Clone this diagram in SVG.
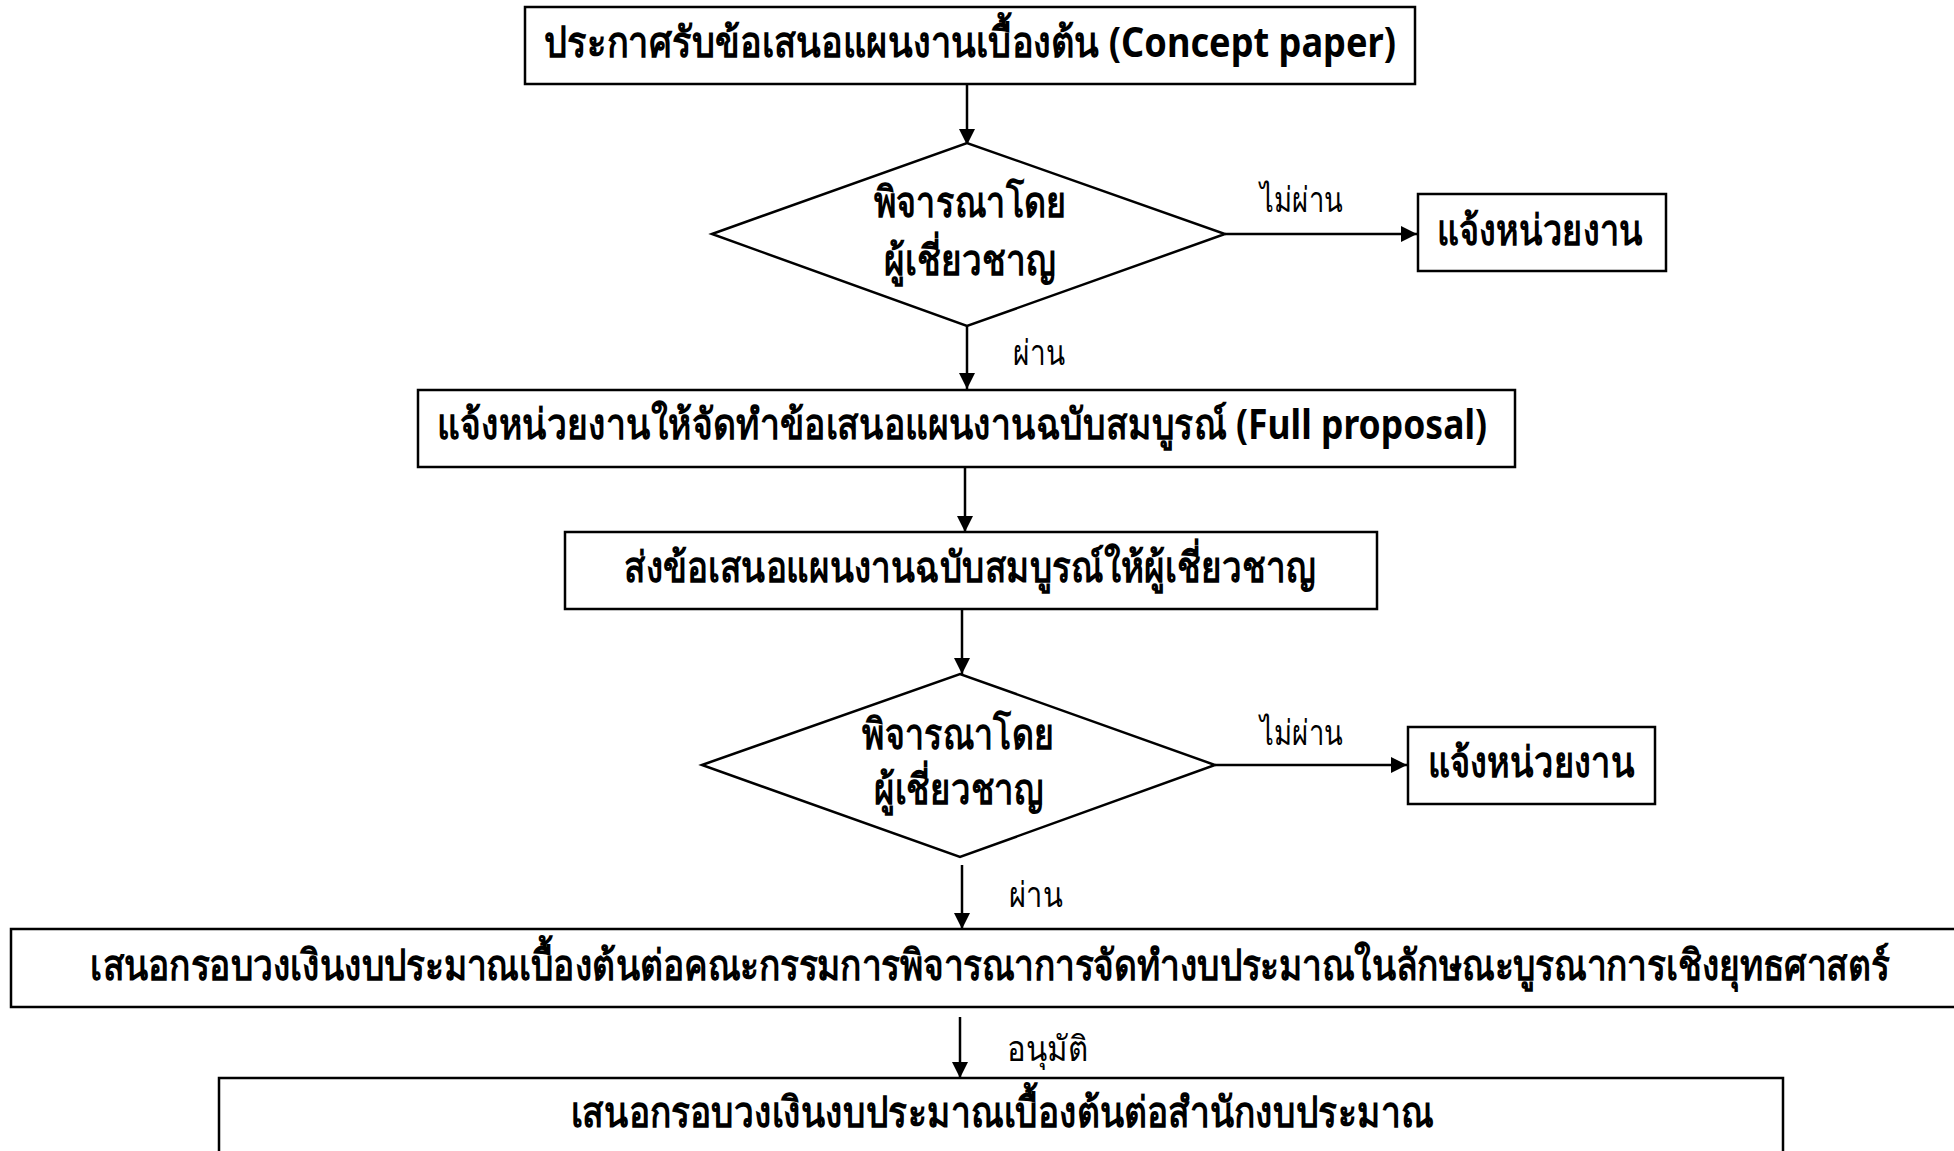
<svg xmlns="http://www.w3.org/2000/svg" width="1954" height="1151" viewBox="0 0 1954 1151">
<style>
.box{fill:#fff;stroke:#000;stroke-width:2.5}
.dia{fill:#fff;stroke:#000;stroke-width:2.5}
.t{font-family:"Noto Sans","DejaVu Sans",sans-serif;font-weight:bold;font-size:42px;fill:#000;text-anchor:middle}
.lbl{font-family:"Noto Sans","DejaVu Sans",sans-serif;font-weight:300;font-size:35px;fill:#000}
.c{stroke:#000;stroke-width:2.5;fill:none;marker-end:url(#ah)}
</style>
<defs>
<marker id="ah" markerUnits="userSpaceOnUse" markerWidth="16" markerHeight="16" viewBox="0 0 16 16" refX="16" refY="8" orient="auto">
<path d="M0,0 L16,8 L0,16 Z" fill="#000"/>
</marker>
</defs>
<rect width="1954" height="1151" fill="#fff"/>
<g id="connectors">
<line class="c" x1="967" y1="85" x2="967" y2="145"/>
<line class="c" x1="1225" y1="234" x2="1417" y2="234"/>
<line class="c" x1="967" y1="326" x2="967" y2="389"/>
<line class="c" x1="965" y1="467" x2="965" y2="532"/>
<line class="c" x1="962" y1="609" x2="962" y2="674"/>
<line class="c" x1="1215" y1="765" x2="1407" y2="765"/>
<line class="c" x1="962" y1="865" x2="962" y2="929"/>
<line class="c" x1="960" y1="1017" x2="960" y2="1078"/>
<text class="lbl" x="1260" y="212" textLength="83" lengthAdjust="spacingAndGlyphs">ไม่ผ่าน</text>
<text class="lbl" x="1013" y="365" textLength="52" lengthAdjust="spacingAndGlyphs">ผ่าน</text>
<text class="lbl" x="1260" y="745" textLength="83" lengthAdjust="spacingAndGlyphs">ไม่ผ่าน</text>
<text class="lbl" x="1009" y="907" textLength="54" lengthAdjust="spacingAndGlyphs">ผ่าน</text>
<text class="lbl" x="1007" y="1061" textLength="81" lengthAdjust="spacingAndGlyphs">อนุมัติ</text>
</g>
<g id="n1">
<rect class="box" x="525" y="7" width="890" height="77"/>
<text class="t" x="970" y="57" textLength="852" lengthAdjust="spacingAndGlyphs">ประกาศรับข้อเสนอแผนงานเบื้องต้น (Concept paper)</text>
</g>
<g id="n2">
<polygon class="dia" points="712,234 967,143 1225,234 967,326"/>
<text class="t" x="970" y="217" textLength="193" lengthAdjust="spacingAndGlyphs">พิจารณาโดย</text>
<text class="t" x="970" y="275" textLength="172" lengthAdjust="spacingAndGlyphs">ผู้เชี่ยวชาญ</text>
</g>
<g id="n3">
<rect class="box" x="1418" y="194" width="248" height="77"/>
<text class="t" x="1540" y="245" textLength="206" lengthAdjust="spacingAndGlyphs">แจ้งหน่วยงาน</text>
</g>
<g id="n4">
<rect class="box" x="418" y="390" width="1097" height="77"/>
<text class="t" x="962" y="439" textLength="1050" lengthAdjust="spacingAndGlyphs">แจ้งหน่วยงานให้จัดทำข้อเสนอแผนงานฉบับสมบูรณ์ (Full proposal)</text>
</g>
<g id="n5">
<rect class="box" x="565" y="532" width="812" height="77"/>
<text class="t" x="970" y="582" textLength="692" lengthAdjust="spacingAndGlyphs">ส่งข้อเสนอแผนงานฉบับสมบูรณ์ให้ผู้เชี่ยวชาญ</text>
</g>
<g id="n6">
<polygon class="dia" points="702,765 960,674 1215,765 960,857"/>
<text class="t" x="958" y="749" textLength="192" lengthAdjust="spacingAndGlyphs">พิจารณาโดย</text>
<text class="t" x="959" y="804" textLength="170" lengthAdjust="spacingAndGlyphs">ผู้เชี่ยวชาญ</text>
</g>
<g id="n7">
<rect class="box" x="1408" y="727" width="247" height="77"/>
<text class="t" x="1531" y="777" textLength="207" lengthAdjust="spacingAndGlyphs">แจ้งหน่วยงาน</text>
</g>
<g id="n8">
<path class="box" d="M1954,929 H11 V1007 H1954"/>
<text class="t" transform="scale(0.8,1)" x="1237.5" y="980" textLength="2248.75" lengthAdjust="spacingAndGlyphs">เสนอกรอบวงเงินงบประมาณเบื้องต้นต่อคณะกรรมการพิจารณาการจัดทำงบประมาณในลักษณะบูรณาการเชิงยุทธศาสตร์</text>
</g>
<g id="n9">
<path class="box" d="M219,1151 V1078 H1783 V1151"/>
<text class="t" x="1002" y="1127" textLength="863" lengthAdjust="spacingAndGlyphs">เสนอกรอบวงเงินงบประมาณเบื้องต้นต่อสำนักงบประมาณ</text>
</g>
</svg>
